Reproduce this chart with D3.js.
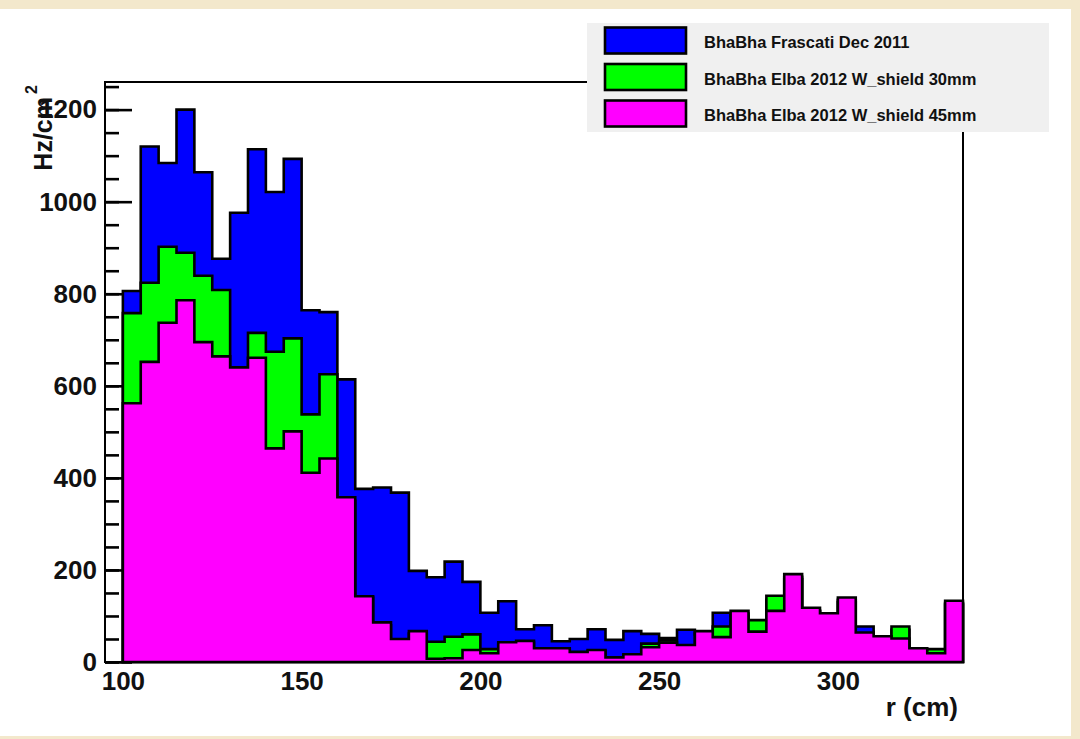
<!DOCTYPE html>
<html>
<head>
<meta charset="utf-8">
<script src="https://cdnjs.cloudflare.com/ajax/libs/d3/7.8.5/d3.min.js"></script>
<style>
  html, body { margin: 0; padding: 0; background: #f3e8cc; }
  svg { display: block; }
  text { font-family: "Liberation Sans", Arial, Helvetica, sans-serif; font-weight: bold; fill: #111; }
</style>
</head>
<body>
<div id="hist-chart"></div>
<script>
// lower edge of each 5 cm bin
var binEdges = [100, 105, 110, 115, 120, 125, 130, 135, 140, 145,
                150, 155, 160, 165, 170, 175, 180, 185, 190, 195,
                200, 205, 210, 215, 220, 225, 230, 235, 240, 245,
                250, 255, 260, 265, 270, 275, 280, 285, 290, 295,
                300, 305, 310, 315, 320, 325, 330];
var binWidth = 5;

// Hz/cm2 per bin
var frascati2011 = [806, 1120, 1084, 1200, 1064, 876, 976, 1114, 1021, 1093,
                    764, 760, 614, 376, 379, 368, 198, 184, 218, 174,
                    107, 132, 71, 80, 45, 50, 71, 48, 67, 61,
                    52, 70, 60, 107, 100, 85, 135, 180, 110, 100,
                    130, 77, 50, 70, 25, 22, 125];
var elba30mm = [758, 824, 902, 889, 839, 808, 630, 715, 674, 703,
                538, 625, 350, 140, 80, 45, 62, 44, 55, 60,
                28, 40, 42, 27, 26, 20, 24, 8, 15, 40,
                47, 34, 62, 77, 105, 91, 144, 185, 112, 100,
                135, 60, 52, 77, 27, 28, 128];
var elba45mm = [562, 652, 737, 786, 695, 664, 640, 661, 464, 501,
                411, 442, 358, 143, 86, 50, 67, 7, 8, 26,
                19, 43, 46, 30, 30, 22, 26, 10, 17, 32,
                42, 37, 67, 54, 111, 66, 111, 191, 118, 106,
                140, 64, 56, 51, 30, 19, 133];

var seriesNames = ["BhaBha Frascati Dec 2011", "BhaBha Elba 2012 W_shield 30mm", "BhaBha Elba 2012 W_shield 45mm"];
var seriesColors = ["#0000ff", "#00ff00", "#ff00ff"];

var xMajor = [100, 150, 200, 250, 300];
var xMinor = [100, 110, 120, 130, 140, 150, 160, 170, 180, 190, 200, 210, 220, 230, 240, 250, 260, 270, 280, 290, 300, 310, 320, 330];
var yMajor = [0, 200, 400, 600, 800, 1000, 1200];
var yMinor = [0, 50, 100, 150, 200, 250, 300, 350, 400, 450, 500, 550, 600, 650, 700, 750, 800, 850, 900, 950, 1000, 1050, 1100, 1150, 1200, 1250];

// frame of the pad
var frame = { left: 105, right: 963, top: 82, bottom: 662 };

var svg = d3.select("#hist-chart").append("svg")
    .attr("width", 1080)
    .attr("height", 739);

// parchment page and white canvas
svg.append("rect").attr("width", 1080).attr("height", 739).attr("fill", "#f3e8cc");
svg.append("rect").attr("x", 0).attr("y", 9).attr("width", 1071).attr("height", 727).attr("fill", "#ffffff");

var x = d3.scaleLinear().domain([95, 335]).range([frame.left, frame.right]),
    y = d3.scaleLinear().domain([0, 1260]).range([frame.bottom, frame.top]);

// ticks first, histograms hide them
svg.append("g")
    .attr("transform", "translate(" + frame.left + ",0)")
    .call(d3.axisLeft(y).tickValues(yMinor).tickSizeInner(-14).tickSizeOuter(0).tickFormat(""))
    .call(function(g) { g.select(".domain").remove(); });

var yAxis = svg.append("g")
    .attr("transform", "translate(" + frame.left + ",0)")
    .call(d3.axisLeft(y).tickValues(yMajor).tickFormat(d3.format("d")).tickSizeInner(-27).tickSizeOuter(0).tickPadding(8));
yAxis.select(".domain").remove();

svg.append("g")
    .attr("transform", "translate(0," + frame.bottom + ")")
    .call(d3.axisBottom(x).tickValues(xMinor).tickSizeInner(-9).tickSizeOuter(0).tickFormat(""))
    .call(function(g) { g.select(".domain").remove(); });

var xAxis = svg.append("g")
    .attr("transform", "translate(0," + frame.bottom + ")")
    .call(d3.axisBottom(x).tickValues(xMajor).tickFormat(d3.format("d")).tickSizeInner(-17).tickSizeOuter(0).tickPadding(10));
xAxis.select(".domain").remove();

svg.selectAll(".tick line").attr("stroke", "#000").attr("stroke-width", 2.6);
svg.selectAll(".tick text")
    .style("font-size", "26px")
    .style("font-family", "'Liberation Sans', Arial, sans-serif")
    .style("font-weight", "bold")
    .attr("fill", "#111");

// step outline of one histogram
function histPath(values) {
  var pts = [[x(binEdges[0]), y(0)]];
  values.forEach(function(v, i) {
    pts.push([x(binEdges[i]), y(v)]);
    pts.push([x(binEdges[i] + binWidth), y(v)]);
  });
  pts.push([x(binEdges[binEdges.length - 1] + binWidth), y(0)]);
  return d3.line()(pts) + "Z";
}

[frascati2011, elba30mm, elba45mm].forEach(function(values, k) {
  svg.append("path")
      .attr("d", histPath(values))
      .attr("fill", seriesColors[k])
      .attr("stroke", "#000")
      .attr("stroke-width", 2.6)
      .attr("stroke-linejoin", "miter");
});

// frame lines
svg.append("rect")
    .attr("x", frame.left)
    .attr("y", frame.top)
    .attr("width", frame.right - frame.left)
    .attr("height", frame.bottom - frame.top)
    .attr("fill", "none")
    .attr("stroke", "#000")
    .attr("stroke-width", 2);

// axis titles
svg.append("text")
    .attr("x", 958)
    .attr("y", 716)
    .attr("text-anchor", "end")
    .style("font-size", "26px")
    .text("r (cm)");

svg.append("text")
    .attr("transform", "translate(52,97) rotate(-90)")
    .attr("text-anchor", "end")
    .style("font-size", "25px")
    .text("Hz/cm");
svg.append("text")
    .attr("transform", "translate(37,94) rotate(-90)")
    .attr("text-anchor", "start")
    .style("font-size", "16px")
    .text("2");

// legend
var legend = svg.append("g");
legend.append("rect")
    .attr("x", 587)
    .attr("y", 23)
    .attr("width", 462)
    .attr("height", 109)
    .attr("fill", "#f0f0f0");

var rows = legend.selectAll(".row")
    .data(seriesNames)
  .enter().append("g")
    .attr("class", "row")
    .attr("transform", function(d, i) { return "translate(0," + (i * 36.5) + ")"; });

rows.append("rect")
    .attr("x", 605)
    .attr("y", 27.5)
    .attr("width", 81)
    .attr("height", 26)
    .attr("fill", function(d, i) { return seriesColors[i]; })
    .attr("stroke", "#000")
    .attr("stroke-width", 2.6);

rows.append("text")
    .attr("x", 704)
    .attr("y", 48.3)
    .style("font-size", "16.5px")
    .text(function(d) { return d; });
</script>
</body>
</html>
